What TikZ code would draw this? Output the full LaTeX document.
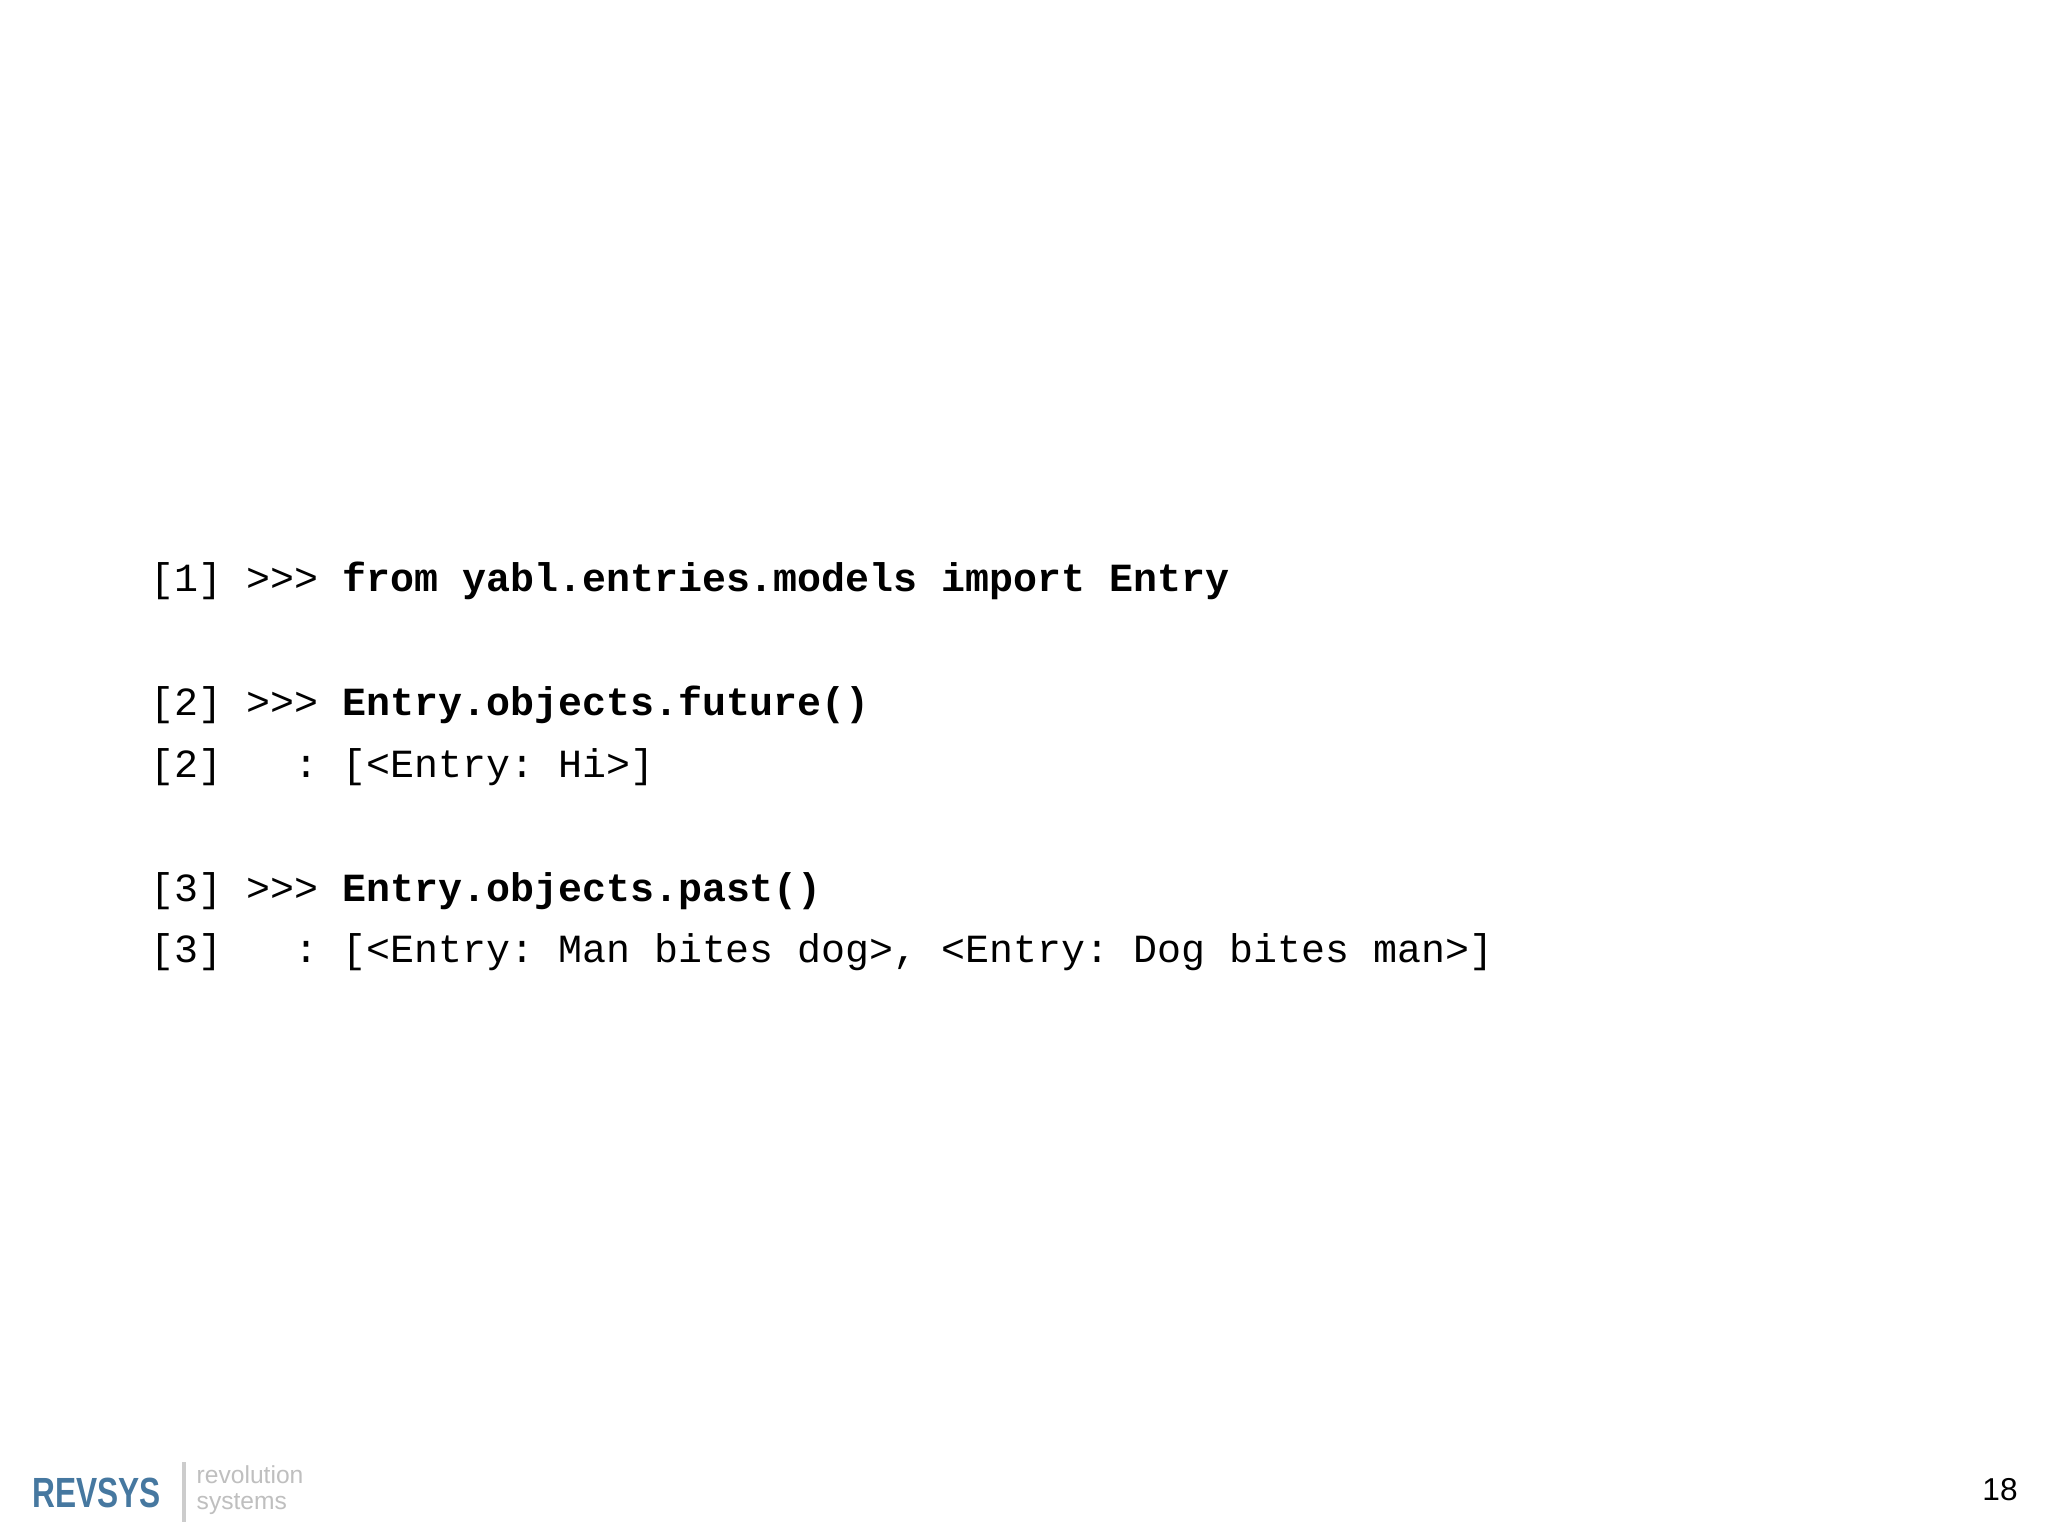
\documentclass[tikz,border=0pt]{standalone}
\usepackage{fontspec}
\setmainfont{Liberation Sans}
\newfontfamily\codefont{Liberation Mono}
\frenchspacing
\definecolor{logoblue}{RGB}{70,120,160}
\begin{document}
\begin{tikzpicture}[x=0.01cm,y=-0.01cm,
  code/.style={anchor=west,inner sep=0pt,font=\codefont\fontsize{11.36pt}{13pt}\selectfont}]
\fill[white] (0,0) rectangle (2048,1536);
\node[code] (l1) at (150,581) {[1] >>> \textbf{from yabl.entries.models import Entry}};
\node[code] (l2) at (150,705) {[2] >>> \textbf{Entry.objects.future()}};
\node[code] (l3) at (150,767) {[2]~~~:~[<Entry:~Hi>]};
\node[code] (l4) at (150,891) {[3] >>> \textbf{Entry.objects.past()}};
\node[code] (l5) at (150,952) {[3]~~~:~[<Entry:~Man bites dog>, <Entry:~Dog bites man>]};
\node[anchor=west,inner sep=0pt,text=logoblue,font=\bfseries\fontsize{12pt}{12pt}\selectfont,xscale=0.75] (logo) at (32,1493) {REVSYS};
\draw[gray!40,line width=1pt] (184,1462) -- (184,1522);
\node[anchor=west,inner sep=0pt,text=gray!50,align=left,font=\fontsize{7pt}{7.5pt}\selectfont] (sub) at (196,1490) {revolution\\systems};
\node[anchor=center,inner sep=0pt,font=\fontsize{9pt}{10pt}\selectfont] (pg) at (2000,1490) {18};
\end{tikzpicture}
\end{document}
